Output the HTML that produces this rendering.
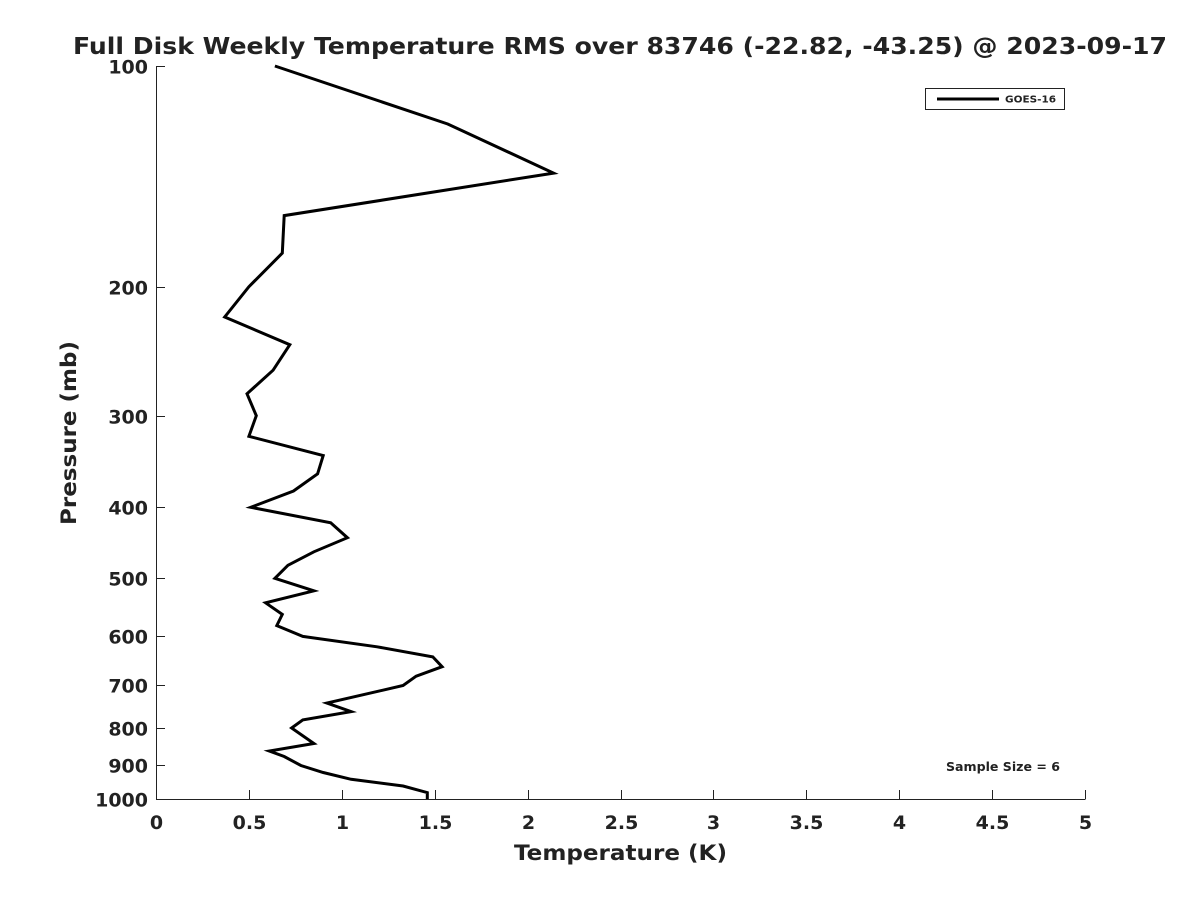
<!DOCTYPE html>
<html><head><meta charset="utf-8"><style>
body{margin:0;background:#fff;}
svg text{font-family:"DejaVu Sans","Liberation Sans",sans-serif;font-weight:bold;fill:#222;}
</style></head><body>
<svg id="chart" width="1200" height="900" xmlns="http://www.w3.org/2000/svg">
<rect width="1200" height="900" fill="#fff"/>
<text x="73" y="54" font-size="23" textLength="1094" lengthAdjust="spacingAndGlyphs" fill="#000">Full Disk Weekly Temperature RMS over 83746 (-22.82, -43.25) @ 2023-09-17</text>
<g id="axes"></g>
<path id="line" fill="none" stroke="#000" stroke-width="3" stroke-linejoin="miter"/>
<g>
<rect x="925.5" y="88.5" width="139" height="21" fill="#fff" stroke="#222" stroke-width="1"/>
<line x1="937" y1="99" x2="999" y2="99" stroke="#000" stroke-width="3"/>
<text x="1005" y="102.5" font-size="9.5" textLength="51" lengthAdjust="spacingAndGlyphs">GOES-16</text>
</g>
<text x="946" y="771" font-size="12" textLength="114" lengthAdjust="spacingAndGlyphs" fill="#000">Sample Size = 6</text>
<text x="514" y="860" font-size="21" textLength="213" lengthAdjust="spacingAndGlyphs">Temperature (K)</text>
<text transform="translate(76,525) rotate(-90)" font-size="21" textLength="184" lengthAdjust="spacingAndGlyphs">Pressure (mb)</text>
</svg>
<script>
const pressures=[100,120,140,160,180,200,220,240,260,280,300,320,340,360,380,400,420,440,460,480,500,520,540,560,580,600,620,640,660,680,700,740,760,780,800,840,860,875,900,920,940,960,980,1000];
const temps=[0.64,1.57,2.14,0.69,0.68,0.50,0.37,0.72,0.63,0.49,0.54,0.50,0.90,0.87,0.74,0.51,0.94,1.03,0.85,0.71,0.64,0.85,0.59,0.68,0.65,0.79,1.19,1.49,1.54,1.40,1.33,0.92,1.05,0.79,0.73,0.85,0.61,0.69,0.78,0.90,1.05,1.33,1.46,1.46];
const xTicks=[0,0.5,1,1.5,2,2.5,3,3.5,4,4.5,5];
const yTicks=[100,200,300,400,500,600,700,800,900,1000];
const L=156,R=1085,T=66,B=799;
const xs=v=>L+(v-0)/(5-0)*(R-L);
const ys=p=>T+Math.log10(p/100)*(B-T);
const NS="http://www.w3.org/2000/svg";
const ax=document.getElementById('axes');
function mk(tag,attrs){const e=document.createElementNS(NS,tag);for(const k in attrs)e.setAttribute(k,attrs[k]);return e;}
const xl=mk('line',{x1:L,y1:B+0.5,x2:R+0.5,y2:B+0.5,stroke:'#222','stroke-width':1});


ax.appendChild(xl);
const yl=mk('line',{x1:L+0.5,y1:T,x2:L+0.5,y2:B+0.5,stroke:'#222','stroke-width':1});


ax.appendChild(yl);
xTicks.forEach(v=>{const x=Math.round(xs(v))+0.5;
 ax.appendChild(mk('line',{x1:x,y1:B,x2:x,y2:B-9,stroke:'#222'}));
 const t=mk('text',{x:x,y:B+30,'font-size':19,'text-anchor':'middle'});t.textContent=v;
 
 
 ax.appendChild(t);});
yTicks.forEach(p=>{const y=Math.round(ys(p))+0.5;
 ax.appendChild(mk('line',{x1:L,y1:y,x2:L+9,y2:y,stroke:'#222'}));
 const t=mk('text',{x:L-8,y:y+7,'font-size':19,'text-anchor':'end'});t.textContent=p;
 
 
 ax.appendChild(t);});
document.getElementById('line').setAttribute('d',pressures.map((p,i)=>(i?'L':'M')+xs(temps[i]).toFixed(1)+' '+ys(p).toFixed(1)).join(' '));
</script>
</body></html>
